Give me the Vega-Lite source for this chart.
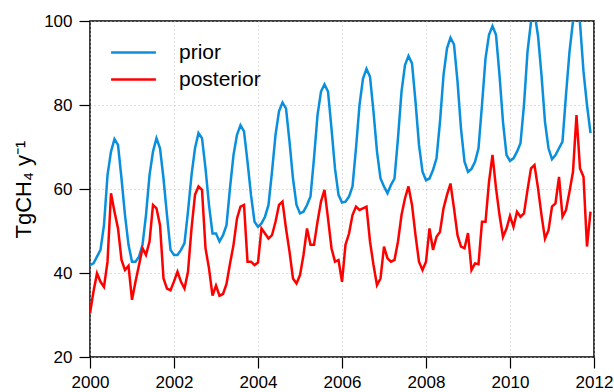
{
  "$schema": "https://vega.github.io/schema/vega-lite/v6.json",
  "width": 504,
  "height": 336,
  "autosize": {"type": "none"},
  "padding": {"left": 90, "top": 21, "right": 20, "bottom": 35},
  "background": "white",
  "config": {
    "view": {"stroke": "black", "strokeWidth": 1.5},
    "font": "Liberation Sans",
    "axis": {
      "domain": false,
      "ticks": true,
      "tickColor": "black",
      "tickWidth": 1.2,
      "tickSize": 11,
      "labelFont": "Liberation Sans",
      "labelFontSize": 17,
      "labelColor": "black",
      "labelPadding": 7,
      "grid": true,
      "gridColor": "#bdbdbd",
      "gridDash": [1, 3],
      "gridWidth": 1,
      "titleFont": "Liberation Sans",
      "titleFontWeight": "normal",
      "titleColor": "black"
    }
  },
  "data": {
    "values": [
      {"t": 2000.000, "prior": 41.9, "posterior": 30.4},
      {"t": 2000.083, "prior": 42.3, "posterior": 35.6},
      {"t": 2000.167, "prior": 43.9, "posterior": 39.9},
      {"t": 2000.250, "prior": 45.5, "posterior": 37.9},
      {"t": 2000.333, "prior": 51.4, "posterior": 36.7},
      {"t": 2000.417, "prior": 63.3, "posterior": 42.7},
      {"t": 2000.500, "prior": 68.9, "posterior": 59.0},
      {"t": 2000.583, "prior": 71.9, "posterior": 54.6},
      {"t": 2000.667, "prior": 70.5, "posterior": 50.6},
      {"t": 2000.750, "prior": 62.5, "posterior": 43.1},
      {"t": 2000.833, "prior": 53.8, "posterior": 40.7},
      {"t": 2000.917, "prior": 46.7, "posterior": 41.7},
      {"t": 2001.000, "prior": 42.7, "posterior": 33.6},
      {"t": 2001.083, "prior": 42.7, "posterior": 37.9},
      {"t": 2001.167, "prior": 43.9, "posterior": 41.9},
      {"t": 2001.250, "prior": 46.7, "posterior": 45.9},
      {"t": 2001.333, "prior": 53.8, "posterior": 44.3},
      {"t": 2001.417, "prior": 63.3, "posterior": 47.5},
      {"t": 2001.500, "prior": 68.9, "posterior": 56.2},
      {"t": 2001.583, "prior": 72.1, "posterior": 55.4},
      {"t": 2001.667, "prior": 69.7, "posterior": 51.4},
      {"t": 2001.750, "prior": 62.5, "posterior": 38.7},
      {"t": 2001.833, "prior": 53.8, "posterior": 36.3},
      {"t": 2001.917, "prior": 45.5, "posterior": 35.9},
      {"t": 2002.000, "prior": 44.3, "posterior": 38.0},
      {"t": 2002.083, "prior": 44.3, "posterior": 40.3},
      {"t": 2002.167, "prior": 45.5, "posterior": 37.9},
      {"t": 2002.250, "prior": 47.1, "posterior": 36.3},
      {"t": 2002.333, "prior": 54.6, "posterior": 40.3},
      {"t": 2002.417, "prior": 63.3, "posterior": 50.6},
      {"t": 2002.500, "prior": 69.7, "posterior": 58.6},
      {"t": 2002.583, "prior": 73.3, "posterior": 60.6},
      {"t": 2002.667, "prior": 72.1, "posterior": 59.8},
      {"t": 2002.750, "prior": 64.9, "posterior": 45.9},
      {"t": 2002.833, "prior": 56.2, "posterior": 41.1},
      {"t": 2002.917, "prior": 49.4, "posterior": 34.6},
      {"t": 2003.000, "prior": 49.4, "posterior": 37.0},
      {"t": 2003.083, "prior": 47.5, "posterior": 34.6},
      {"t": 2003.167, "prior": 49.0, "posterior": 35.0},
      {"t": 2003.250, "prior": 51.4, "posterior": 37.4},
      {"t": 2003.333, "prior": 60.2, "posterior": 42.2},
      {"t": 2003.417, "prior": 68.1, "posterior": 46.7},
      {"t": 2003.500, "prior": 72.9, "posterior": 53.0},
      {"t": 2003.583, "prior": 75.2, "posterior": 55.8},
      {"t": 2003.667, "prior": 73.7, "posterior": 56.2},
      {"t": 2003.750, "prior": 66.5, "posterior": 42.7},
      {"t": 2003.833, "prior": 58.6, "posterior": 42.7},
      {"t": 2003.917, "prior": 52.2, "posterior": 41.9},
      {"t": 2004.000, "prior": 51.0, "posterior": 42.5},
      {"t": 2004.083, "prior": 51.8, "posterior": 50.6},
      {"t": 2004.167, "prior": 53.4, "posterior": 49.4},
      {"t": 2004.250, "prior": 56.2, "posterior": 48.2},
      {"t": 2004.333, "prior": 64.1, "posterior": 49.0},
      {"t": 2004.417, "prior": 72.9, "posterior": 52.2},
      {"t": 2004.500, "prior": 78.5, "posterior": 56.2},
      {"t": 2004.583, "prior": 80.6, "posterior": 57.0},
      {"t": 2004.667, "prior": 79.2, "posterior": 50.6},
      {"t": 2004.750, "prior": 71.3, "posterior": 45.1},
      {"t": 2004.833, "prior": 62.5, "posterior": 38.7},
      {"t": 2004.917, "prior": 56.2, "posterior": 37.5},
      {"t": 2005.000, "prior": 54.2, "posterior": 39.5},
      {"t": 2005.083, "prior": 54.6, "posterior": 44.3},
      {"t": 2005.167, "prior": 56.2, "posterior": 50.6},
      {"t": 2005.250, "prior": 58.2, "posterior": 46.7},
      {"t": 2005.333, "prior": 67.3, "posterior": 46.7},
      {"t": 2005.417, "prior": 77.6, "posterior": 52.2},
      {"t": 2005.500, "prior": 83.2, "posterior": 57.0},
      {"t": 2005.583, "prior": 84.9, "posterior": 59.8},
      {"t": 2005.667, "prior": 83.2, "posterior": 53.0},
      {"t": 2005.750, "prior": 74.4, "posterior": 45.9},
      {"t": 2005.833, "prior": 64.9, "posterior": 42.7},
      {"t": 2005.917, "prior": 58.6, "posterior": 43.1},
      {"t": 2006.000, "prior": 56.8, "posterior": 37.9},
      {"t": 2006.083, "prior": 57.0, "posterior": 46.7},
      {"t": 2006.167, "prior": 58.2, "posterior": 49.4},
      {"t": 2006.250, "prior": 60.6, "posterior": 53.8},
      {"t": 2006.333, "prior": 69.7, "posterior": 55.8},
      {"t": 2006.417, "prior": 80.0, "posterior": 55.0},
      {"t": 2006.500, "prior": 86.3, "posterior": 55.4},
      {"t": 2006.583, "prior": 88.6, "posterior": 55.8},
      {"t": 2006.667, "prior": 86.7, "posterior": 47.5},
      {"t": 2006.750, "prior": 78.4, "posterior": 41.9},
      {"t": 2006.833, "prior": 68.9, "posterior": 37.1},
      {"t": 2006.917, "prior": 62.5, "posterior": 38.7},
      {"t": 2007.000, "prior": 60.6, "posterior": 46.3},
      {"t": 2007.083, "prior": 59.0, "posterior": 43.5},
      {"t": 2007.167, "prior": 61.0, "posterior": 42.7},
      {"t": 2007.250, "prior": 62.5, "posterior": 43.1},
      {"t": 2007.333, "prior": 72.1, "posterior": 47.5},
      {"t": 2007.417, "prior": 83.2, "posterior": 53.8},
      {"t": 2007.500, "prior": 89.5, "posterior": 57.8},
      {"t": 2007.583, "prior": 91.7, "posterior": 60.6},
      {"t": 2007.667, "prior": 89.9, "posterior": 56.2},
      {"t": 2007.750, "prior": 80.8, "posterior": 49.0},
      {"t": 2007.833, "prior": 70.5, "posterior": 42.7},
      {"t": 2007.917, "prior": 64.1, "posterior": 40.7},
      {"t": 2008.000, "prior": 62.1, "posterior": 42.7},
      {"t": 2008.083, "prior": 62.5, "posterior": 50.6},
      {"t": 2008.167, "prior": 64.5, "posterior": 45.5},
      {"t": 2008.250, "prior": 67.3, "posterior": 48.6},
      {"t": 2008.333, "prior": 76.0, "posterior": 49.8},
      {"t": 2008.417, "prior": 87.1, "posterior": 55.4},
      {"t": 2008.500, "prior": 93.5, "posterior": 58.6},
      {"t": 2008.583, "prior": 96.0, "posterior": 61.3},
      {"t": 2008.667, "prior": 94.4, "posterior": 55.4},
      {"t": 2008.750, "prior": 85.6, "posterior": 49.0},
      {"t": 2008.833, "prior": 74.4, "posterior": 46.3},
      {"t": 2008.917, "prior": 66.5, "posterior": 45.9},
      {"t": 2009.000, "prior": 64.1, "posterior": 49.5},
      {"t": 2009.083, "prior": 64.8, "posterior": 40.7},
      {"t": 2009.167, "prior": 66.5, "posterior": 42.3},
      {"t": 2009.250, "prior": 69.7, "posterior": 42.1},
      {"t": 2009.333, "prior": 80.0, "posterior": 52.2},
      {"t": 2009.417, "prior": 91.1, "posterior": 52.2},
      {"t": 2009.500, "prior": 96.7, "posterior": 61.7},
      {"t": 2009.583, "prior": 98.8, "posterior": 68.1},
      {"t": 2009.667, "prior": 96.7, "posterior": 60.2},
      {"t": 2009.750, "prior": 87.1, "posterior": 53.8},
      {"t": 2009.833, "prior": 76.0, "posterior": 48.6},
      {"t": 2009.917, "prior": 68.1, "posterior": 50.6},
      {"t": 2010.000, "prior": 66.7, "posterior": 53.6},
      {"t": 2010.083, "prior": 67.3, "posterior": 51.0},
      {"t": 2010.167, "prior": 68.9, "posterior": 54.6},
      {"t": 2010.250, "prior": 70.9, "posterior": 53.4},
      {"t": 2010.333, "prior": 80.0, "posterior": 54.2},
      {"t": 2010.417, "prior": 92.7, "posterior": 59.8},
      {"t": 2010.500, "prior": 99.8, "posterior": 64.9},
      {"t": 2010.583, "prior": 102.0, "posterior": 65.7},
      {"t": 2010.667, "prior": 96.5, "posterior": 60.2},
      {"t": 2010.750, "prior": 87.1, "posterior": 53.8},
      {"t": 2010.833, "prior": 76.0, "posterior": 48.2},
      {"t": 2010.917, "prior": 69.7, "posterior": 50.2},
      {"t": 2011.000, "prior": 67.1, "posterior": 55.8},
      {"t": 2011.083, "prior": 68.1, "posterior": 56.6},
      {"t": 2011.167, "prior": 69.7, "posterior": 62.9},
      {"t": 2011.250, "prior": 71.3, "posterior": 53.4},
      {"t": 2011.333, "prior": 82.4, "posterior": 55.0},
      {"t": 2011.417, "prior": 92.7, "posterior": 59.4},
      {"t": 2011.500, "prior": 100.0, "posterior": 64.1},
      {"t": 2011.583, "prior": 104.0, "posterior": 77.6},
      {"t": 2011.667, "prior": 99.5, "posterior": 64.9},
      {"t": 2011.750, "prior": 88.0, "posterior": 62.9},
      {"t": 2011.833, "prior": 80.0, "posterior": 46.3},
      {"t": 2011.917, "prior": 73.3, "posterior": 54.6}
    ]
  },
  "transform": [
    {"fold": ["prior", "posterior"], "as": ["series", "value"]}
  ],
  "mark": {"type": "line", "clip": true, "strokeWidth": 2.5, "strokeJoin": "miter"},
  "encoding": {
    "x": {
      "field": "t",
      "type": "quantitative",
      "scale": {"domain": [2000, 2012], "nice": false, "zero": false},
      "axis": {
        "title": null,
        "values": [2000, 2002, 2004, 2006, 2008, 2010, 2012],
        "format": "d",
        "labelFlush": false,
        "labelPadding": 6
      }
    },
    "y": {
      "field": "value",
      "type": "quantitative",
      "scale": {"domain": [20, 100], "nice": false, "zero": false},
      "axis": {
        "title": "TgCH₄ y⁻¹",
        "titleFontSize": 22,
        "titlePadding": 8,
        "values": [20, 40, 60, 80, 100],
        "labelFlush": false
      }
    },
    "color": {
      "field": "series",
      "type": "nominal",
      "scale": {"domain": ["prior", "posterior"], "range": ["#0a8fdc", "#ff0000"]},
      "legend": {
        "title": null,
        "orient": "none",
        "legendX": 28,
        "legendY": 16,
        "padding": 0,
        "symbolType": "M-1.6,0H1.6",
        "symbolSize": 784,
        "symbolStrokeWidth": 2.5,
        "labelFontSize": 21,
        "labelFont": "Liberation Sans",
        "labelColor": "black",
        "labelOffset": 30,
        "rowPadding": 1
      }
    }
  }
}
